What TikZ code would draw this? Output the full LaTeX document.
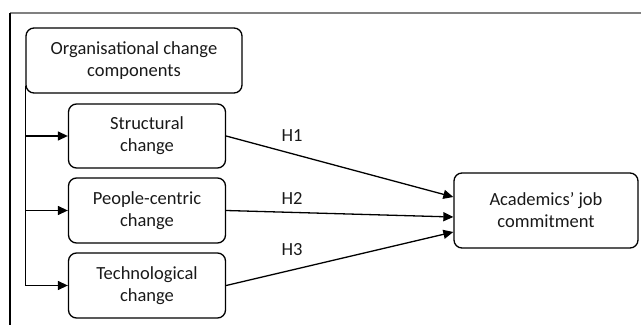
\documentclass[tikz,border=0pt]{standalone}
\usepackage{fontspec}
\setmainfont{Carlito}
\usetikzlibrary{arrows.meta}
\begin{document}
\begin{tikzpicture}[x=1pt,y=-1pt,
  box/.style={draw, line width=1.3pt, rounded corners=8pt, align=center, inner sep=0pt, font=\fontsize{18.5}{22}\selectfont, text=black!90},
  lbl/.style={font=\fontsize{18.5}{22}\selectfont, text=black!90, inner sep=0pt},
  arr/.style={line width=1.3pt, -{Triangle[length=10pt,width=9pt]}},
  frame/.style={line width=1.3pt}]
\useasboundingbox (0,0) rectangle (641,327);
\draw[frame, black!50] (10,13) -- (641,13);
\draw[frame] (10,13) -- (10,325);
\node[box, minimum width=216pt, minimum height=65pt] (org) at (134,60.5) {Organisational change\\components};
\node[box, minimum width=157pt, minimum height=64pt] (str) at (147,136) {Structural\\change};
\node[box, minimum width=157pt, minimum height=65pt] (ppl) at (147,210.5) {People-centric\\change};
\node[box, minimum width=157pt, minimum height=65pt] (tec) at (147,285.5) {Technological\\change};
\node[box, minimum width=184pt, minimum height=75pt] (acd) at (546,210.5) {Academics’ job\\commitment};
\draw[line width=1.3pt] ([yshift=8pt]org.south west) -- (org.south west |- tec.west);
\draw[arr] (org.south west |- str.west) -- (str.west);
\draw[arr] (org.south west |- ppl.west) -- (ppl.west);
\draw[arr] (org.south west |- tec.west) -- (tec.west);
\draw[arr] (str.east) -- ([yshift=13.5pt]acd.west);
\draw[arr] (ppl.east) -- ([yshift=-6.5pt]acd.west);
\draw[arr] (tec.east) -- ([yshift=-21.5pt]acd.west);
\node[lbl] (h1) at (292,136) {H1};
\node[lbl] (h2) at (292,198) {H2};
\node[lbl] (h3) at (292,250) {H3};
\end{tikzpicture}
\end{document}
